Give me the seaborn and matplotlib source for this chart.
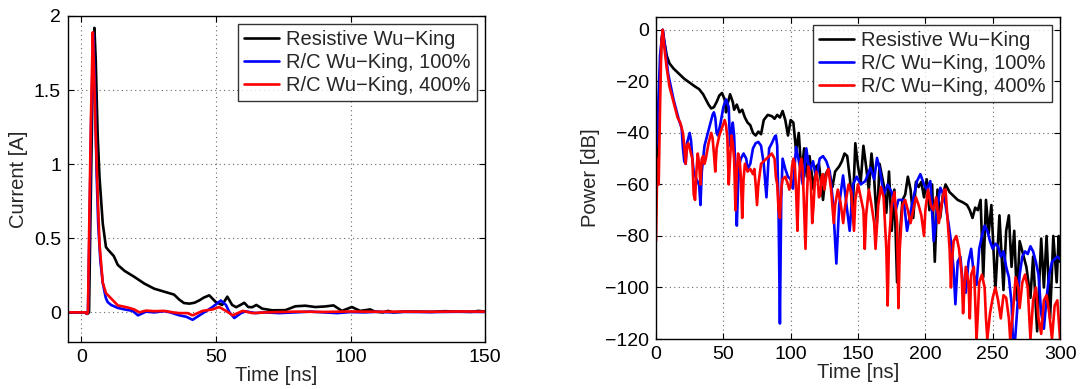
import matplotlib
matplotlib.use("Agg")
import matplotlib.pyplot as plt
import pandas as pd
import seaborn as sns

# ---------------- current waveforms (left panel) ----------------
t_cur_res = [-5, 0, 1.5, 2.2, 2.8, 3.3, 4.0, 4.8, 5.3, 6.0, 6.7, 7.9, 9.1, 10, 11, 12, 13.5,
             16, 19.6, 23.3, 27, 30.7, 34.4, 36.4, 38.1, 40.1, 42, 43.8, 45.5, 47.5, 49.9,
             52.3, 54.2, 56, 57.5, 59.1, 60.5, 62, 63.5, 65, 67.2, 70.9, 75.8, 79.5, 83.2,
             86.9, 90.6, 93.7, 96.8, 100.5, 103.6, 107.3, 109.1, 112, 114, 116, 120, 125,
             130, 135, 140, 145, 147.5, 150]
i_cur_res = [0, 0, 0, -0.01, 0.0, 0.6, 1.4, 1.92, 1.7, 1.2, 0.91, 0.6, 0.44, 0.42, 0.40, 0.38,
             0.32, 0.28, 0.24, 0.195, 0.16, 0.14, 0.12, 0.085, 0.063, 0.059, 0.065, 0.081,
             0.1, 0.115, 0.07, 0.05, 0.106, 0.05, 0.035, 0.05, 0.065, 0.036, 0.035, 0.05,
             0.025, 0.014, 0.015, 0.041, 0.045, 0.036, 0.04, 0.047, 0.01, 0.036, 0.01, 0.02,
             0.005, 0.0, 0.01, 0.0, 0.005, 0.005, 0.003, 0.008, 0.005, 0.003, 0.01, 0.005]

t_cur_100 = [-5, 0, 1.5, 1.9, 2.4, 3.0, 3.6, 4.4, 5.0, 5.6, 6.2, 7.0, 7.9, 9.0, 9.7, 11,
             13.5, 16, 19, 21, 24, 27, 30.7, 33, 36.4, 39, 41.3, 43, 45, 48.7, 51.8, 53.7,
             55, 56.8, 59.3, 61, 64.7, 68, 73.4, 79.5, 85, 90, 95, 100, 105, 110, 115, 120,
             130, 140, 150]
i_cur_100 = [0, 0, 0, -0.01, 0.0, 0.6, 1.3, 1.88, 1.5, 0.95, 0.6, 0.35, 0.2, 0.1, 0.07,
             0.05, 0.03, 0.02, 0.01, -0.02, 0.005, 0.0, 0.008, 0.0, -0.02, -0.03, -0.05,
             -0.03, -0.007, 0.036, 0.08, 0.05, 0.0, -0.038, -0.005, 0.007, -0.005, 0.0,
             -0.005, 0.0, 0.005, 0.0, -0.005, 0.002, 0.0, 0.004, 0.0, 0.003, 0.002, 0.004,
             0.003]

t_cur_400 = [-5, 0, 1.5, 1.9, 2.4, 2.96, 3.5, 4.2, 4.7, 5.2, 6.0, 6.7, 7.9, 9.1, 11, 13.5,
             15.4, 17.8, 19.6, 21.5, 24, 27, 30.7, 34, 36.4, 39.4, 41.3, 45, 48.7, 51.2,
             53.7, 56.2, 59.9, 63.6, 68.6, 79.5, 90, 100, 110, 120, 130, 140, 150]
i_cur_400 = [0, 0, 0, -0.01, 0.0, 0.69, 1.3, 1.89, 1.6, 1.25, 0.8, 0.46, 0.2, 0.13, 0.094,
             0.047, 0.04, 0.03, 0.02, 0.0, 0.012, 0.008, 0.01, 0.0, -0.005, -0.005, -0.02,
             0.01, 0.02, 0.036, 0.01, -0.02, 0.01, -0.005, 0.0, 0.005, 0.003, 0.006, 0.004,
             0.005, 0.004, 0.006, 0.005]

# ---------------- power envelopes (right panel) ----------------
t_pow_res = [0, 2, 4, 5, 6, 8, 10, 13, 17, 21, 25, 29, 32, 35, 37, 39, 41, 43, 45, 47, 49, 51,
             52, 53, 55, 57, 58, 60, 62, 64, 66, 68, 70, 72, 74, 76, 78, 80, 83, 86, 88, 90,
             92, 94, 96, 98, 100, 102, 104, 106, 108, 110, 112, 114, 117, 119, 121, 124, 126,
             128, 131, 133, 136, 138, 140, 142, 144, 146, 148, 150, 152, 154, 156, 158, 160,
             162, 164, 166, 169, 171, 173, 175, 177, 179, 181, 183, 185, 187, 189, 191, 193,
             195, 197, 199, 201, 203, 205, 207, 209, 211, 213, 215, 218, 221, 224, 228, 231,
             233, 235, 237, 239, 241, 243, 245, 247, 249, 252, 255, 258, 260, 262, 264, 266,
             268, 270, 273, 275, 278, 280, 283, 286, 288, 290, 292.6, 295, 297.5, 299, 300]
p_pow_res = [-60, -30, -5, 0, -4, -10, -13, -15, -17, -19, -20.5, -22, -23, -25, -27, -29,
             -30.5, -30, -28, -25.5, -24.5, -27, -32, -29, -25, -28, -31, -29, -32, -31, -34,
             -36, -37, -40, -41, -39.5, -40.5, -35, -33, -33.5, -34.5, -33, -34, -31.5, -35,
             -41, -35, -36, -47, -40, -56, -46, -57, -49, -62, -53, -52, -66, -56, -54, -61,
             -55, -53, -51, -48, -49, -58, -71, -44, -53, -59, -45, -53, -62, -48, -58, -75,
             -52, -60, -71, -55, -78, -62, -98, -80, -66, -64, -57, -62, -73, -59, -61, -59,
             -65, -58, -70, -60, -90, -62, -73, -64, -60, -63, -64.5, -66, -67, -68, -70,
             -73, -69, -70, -66, -96, -66, -79, -68, -101, -72, -101, -78, -72, -92, -78,
             -105, -82, -88, -92, -104, -88, -117, -81, -100, -80, -112, -80, -98, -80, -90]

t_pow_100 = [0, 1, 3, 5, 7, 9, 11, 13, 15, 17, 19, 20, 21, 22, 23, 25, 26, 27, 28, 30, 32,
             33, 34, 36, 38, 40, 42, 43, 44, 45, 46, 48, 50, 52, 54, 55, 56, 57, 58, 59, 60,
             61, 62, 63, 65, 67, 68, 70, 72, 74, 76, 78, 80, 82, 84, 86, 88, 89, 90, 91, 92,
             93, 94, 96, 98, 100, 101.7, 104, 106.7, 109, 111.6, 114, 116.6, 119, 121.5,
             124, 126.5, 129, 131.4, 133.9, 136, 138.9, 141, 143.8, 146.3, 149, 152, 155.4,
             159.2, 162, 164.1, 166.5, 169, 172, 175, 178, 180, 183.9, 186.4, 190, 193.8,
             196.3, 199, 201, 203.7, 206.2, 209, 211.1, 213.5, 215, 217.3, 219, 221, 222.3,
             224, 226, 228, 230, 232, 234, 236, 238, 240, 242, 244, 246, 248, 250, 252, 254,
             256, 258, 260, 262, 264, 265, 266, 268, 270, 272, 274, 276, 278, 280, 282, 284,
             286, 288, 290, 292, 294, 296, 298, 300]
p_pow_100 = [-46, -40, -10, 0, -8, -17, -22, -27, -31, -35, -38, -46, -51, -52, -44, -40, -43,
             -50, -55, -58, -60, -68, -55, -45, -41, -37, -33, -32, -34, -40, -41, -36, -30,
             -27, -30, -45, -40, -36, -41, -55, -76, -60, -52, -50, -48, -50, -54, -52, -46,
             -44, -43.5, -45, -52, -65, -46, -44, -41.6, -41, -45, -70, -114, -65, -50, -54,
             -57, -58, -61.6, -45.5, -52.6, -60, -46, -55, -51, -58, -50, -49, -51, -55, -66.8,
             -90.7, -68, -56.5, -66, -78, -60, -57, -60, -58.7, -53.5, -58, -49.7, -55, -64,
             -60, -63, -70, -66, -66, -78, -68, -58.7, -56, -60, -62, -58.7, -82, -68, -61.3,
             -64, -68, -75.5, -82, -93, -106.5, -90, -88, -100, -102, -90, -85, -95, -99, -85,
             -80, -76, -78, -82, -85, -83, -84, -88, -86, -92, -96, -106, -120, -125, -110,
             -95, -88, -86, -87, -84, -86, -90, -95, -110, -116, -104, -95, -90, -89, -88, -89]

t_pow_400 = [0, 1, 2, 3, 4, 5, 6, 8, 10, 12, 14, 16, 18, 20, 21, 22, 23, 24, 25, 26, 27, 28,
             29, 30, 31, 32, 33, 34, 35, 36, 37, 39, 41, 42, 43, 44, 45, 47, 49, 51, 52, 53,
             54, 55, 56, 57, 58, 59, 60, 61, 62, 63, 64, 65, 66, 68, 70, 72, 73, 74, 75, 76,
             78, 80, 82, 84, 86, 88, 89, 90, 91, 92, 93, 94, 96, 98, 99, 100, 101, 102, 103,
             104, 105, 106, 107, 108, 109, 110, 111, 112, 113, 114, 115, 116, 117, 118, 119,
             120, 121, 122, 123, 124, 125, 127, 128, 130, 132, 133, 135, 137, 139, 140, 142,
             143, 145, 147, 148, 150, 152, 154, 155, 156, 158, 160, 162, 163, 165, 167, 169,
             171, 172, 173, 175, 177, 179, 180, 181, 183, 185, 187, 189, 191, 193, 195, 197,
             199, 200, 202, 204, 206, 208, 210, 212, 214, 215, 216, 218, 219, 220, 221, 223,
             225, 227, 228, 229, 230, 232, 233, 234, 236, 237, 238, 239, 240, 242, 244, 245,
             246, 248, 250, 252, 254, 256, 258, 260, 262, 263, 265, 267, 269, 270, 272, 274,
             276, 278, 280, 282, 284, 286, 288, 290, 292, 294, 296, 298, 300]
p_pow_400 = [-82, -50, -60, -30, -5, 0, -6, -15, -22, -26, -30, -34, -36, -40, -45, -52, -45,
             -44, -46, -48, -50, -64, -66, -55, -48, -52, -60, -50, -49, -52, -50, -44, -40,
             -42, -48, -55, -46, -41, -38, -35, -37, -42, -60, -50, -41, -44, -50, -70, -55,
             -48, -50, -57, -73, -58, -52, -55, -54, -56, -54, -60, -68, -60, -52, -51, -50,
             -49, -48, -50, -57, -60, -70, -73, -62, -58, -57, -60, -62, -60, -53, -50, -52,
             -62, -78, -60, -52, -50, -55, -70, -85, -65, -53, -55, -60, -75, -68, -58, -55,
             -58, -65, -64, -57, -56, -62, -55, -54, -62, -75, -68, -62, -67, -75, -70, -63,
             -60, -63, -78, -66, -60, -65, -70, -85, -72, -62, -68, -75, -85, -68, -61, -65,
             -85, -107, -82, -68, -63, -75, -108, -85, -68, -66, -70, -75, -70, -65, -68, -72,
             -80, -70, -62, -68, -70, -65, -75, -68, -62, -62, -70, -85, -100, -88, -82, -80,
             -85, -95, -110, -100, -92, -98, -112, -95, -92, -105, -120, -110, -98, -95, -100,
             -112, -120, -110, -104, -100, -105, -112, -103, -104, -112, -120, -110, -96, -100,
             -108, -98, -95, -100, -120, -105, -100, -112, -118, -105, -103, -110, -120, -107,
             -105, -120]

labels = ["Resistive Wu\u2212King", "R/C Wu\u2212King, 100%", "R/C Wu\u2212King, 400%"]
colors = ["black", "blue", "red"]

sns.set_theme(style="white")
plt.rcParams["font.family"] = ["Liberation Sans", "DejaVu Sans"]
plt.rcParams["font.size"] = 14
plt.rcParams["axes.unicode_minus"] = True

fig = plt.figure(figsize=(10.87, 3.89), dpi=100)
ax1 = fig.add_axes([0.0626, 0.1208, 0.3836, 0.8381])
ax2 = fig.add_axes([0.6035, 0.1285, 0.3717, 0.8278])

cur_sets = [(t_cur_res, i_cur_res), (t_cur_100, i_cur_100), (t_cur_400, i_cur_400)]
pow_sets = [(t_pow_res, p_pow_res), (t_pow_100, p_pow_100), (t_pow_400, p_pow_400)]

for (t, v), lab, c in zip(cur_sets, labels, colors):
    df = pd.DataFrame({"t": t, "v": v})
    sns.lineplot(data=df, x="t", y="v", ax=ax1, color=c, label=lab, lw=1.9,
                 sort=False, estimator=None)
for (t, v), lab, c in zip(pow_sets, labels, colors):
    df = pd.DataFrame({"t": t, "v": v})
    sns.lineplot(data=df, x="t", y="v", ax=ax2, color=c, label=lab, lw=1.9,
                 sort=False, estimator=None)

ax1.set_xlim(-5, 150)
ax1.set_ylim(-0.2, 2)
ax1.set_xticks([0, 50, 100, 150])
ax1.set_yticks([0, 0.5, 1, 1.5, 2])
ax1.set_yticklabels(["0", "0.5", "1", "1.5", "2"])
ax1.set_xlabel("Time [ns]", labelpad=0, fontsize=14.5)
ax1.set_ylabel("Current [A]", labelpad=4, fontsize=14.5)

ax2.set_xlim(0, 300)
ax2.set_ylim(-120, 5)
ax2.set_xticks(range(0, 301, 50))
ax2.set_yticks(range(-120, 1, 20))
ax2.set_xlabel("Time [ns]", labelpad=0, fontsize=14.5)
ax2.set_ylabel("Power [dB]", labelpad=4, fontsize=14.5)

for ax in (ax1, ax2):
    ax.grid(True, linestyle=(0, (1, 3)), color="#666666", linewidth=0.8)
    for s in ax.spines.values():
        s.set_color("black")
        s.set_linewidth(1.0)
    ax.tick_params(direction="in", length=4, width=0.8, top=True, right=True,
                   bottom=True, left=True, labelsize=14, colors="black", pad=5)
    leg = ax.legend(loc="upper right", frameon=True, fancybox=False, fontsize=14.5,
                    handlelength=1.75, handletextpad=0.35, borderpad=0.3,
                    labelspacing=0.2, borderaxespad=0.4)
    leg.get_frame().set_edgecolor("black")
    leg.get_frame().set_linewidth(1.0)
    ax.set_facecolor("white")

fig.savefig("out.png", dpi=100, facecolor="white")
